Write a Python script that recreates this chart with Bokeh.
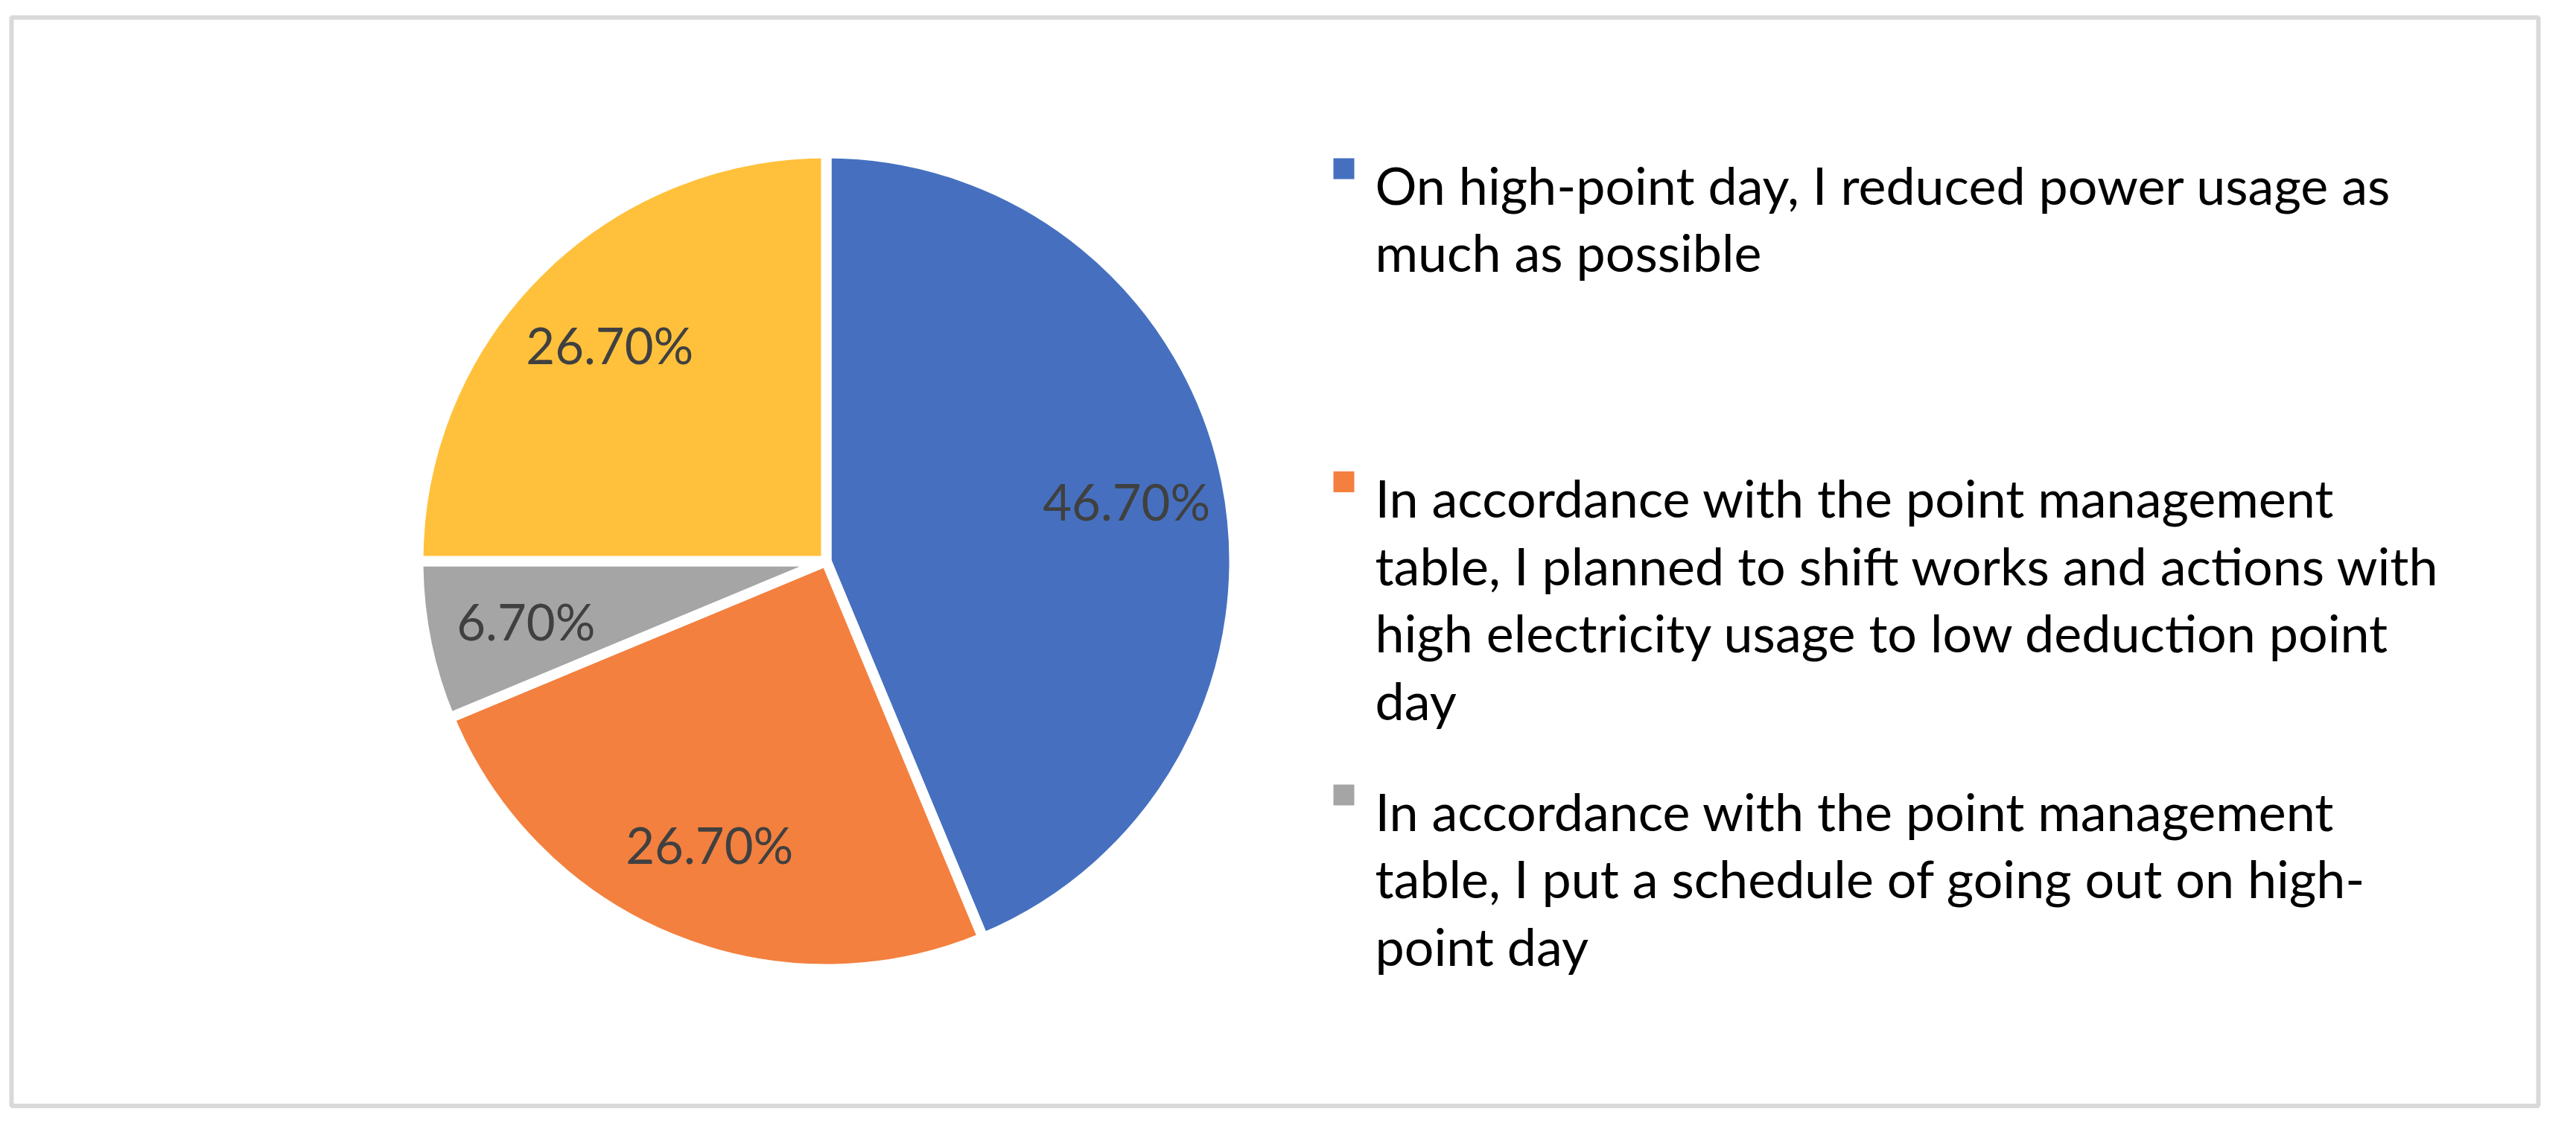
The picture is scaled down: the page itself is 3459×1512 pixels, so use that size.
import math
from bokeh.plotting import figure
from bokeh.models import Range1d, ColumnDataSource
from bokeh.core.properties import value
from bokeh.embed import file_html
from bokeh.resources import INLINE

# ---------------- data ----------------
values = [46.7, 26.7, 6.7, 26.7]
slice_labels = ["46.70%", "26.70%", "6.70%", "26.70%"]
colors = ["#4670BF", "#F3803F", "#A5A5A5", "#FFC13B"]
legend_lines = [
    ["On high-point day, I reduced power usage as",
     "much as possible"],
    ["In accordance with the point management",
     "table, I planned to shift works and actions with",
     "high electricity usage to low deduction point",
     "day"],
    ["In accordance with the point management",
     "table, I put a schedule of going out on high-",
     "point day"],
]

# ---------------- layout ----------------
W, H = 3443, 1496
FONT = "Lato"

def Y(sy):
    # screen y (page px) -> data y (y up)
    return 1504 - sy

def X(sx):
    return sx

p = figure(width=W, height=H, output_backend="svg", toolbar_location=None,
           x_range=Range1d(8, 8 + W), y_range=Range1d(8, 8 + H),
           x_axis_type=None, y_axis_type=None, min_border=0,
           outline_line_color=None, background_fill_color="white",
           border_fill_color="white")
p.grid.visible = False

# chart border
p.quad(left=[X(23)], right=[X(3416)], top=[Y(23)], bottom=[Y(1484.5)],
       fill_color=None, line_color="#D9D9D9", line_width=6)

# pie
cx, cy = X(1117), Y(753)
R = 548
total = sum(values)
starts, ends, mids = [], [], []
acc = 0.0
for v in values:
    a0 = math.pi / 2 - 2 * math.pi * acc / total
    acc += v
    a1 = math.pi / 2 - 2 * math.pi * acc / total
    starts.append(a0)
    ends.append(a1)
    mids.append((a0 + a1) / 2)

src = ColumnDataSource(dict(start=starts, end=ends, color=colors))
p.wedge(x=cx, y=cy, radius=R, start_angle="start", end_angle="end",
        direction="clock", fill_color="color", line_color="white",
        line_width=14, source=src)

# data labels
lr = 0.76 * (R - 7)
lx = [cx + lr * math.cos(m) for m in mids]
ly = [cy + lr * math.sin(m) for m in mids]
p.text(x=lx, y=ly, text=slice_labels, text_font=value(FONT),
       text_font_size="67px", text_color="#404040",
       text_align="center", text_baseline="middle")

# legend
leg_x_sq = X(1812)
leg_x_txt = X(1854)
first_base = 247
entry_step = 420.5
line_step = 90.5
sq_x, sq_y, sq_c = [], [], []
tx, ty, tt = [], [], []
for i, lines in enumerate(legend_lines):
    b0 = first_base + i * entry_step
    sq_x.append(leg_x_sq)
    sq_y.append(Y(b0 - 21))
    sq_c.append(colors[i])
    for j, ln in enumerate(lines):
        tx.append(leg_x_txt)
        ty.append(Y(b0 + j * line_step))
        tt.append(ln)
p.scatter(x=sq_x, y=sq_y, marker="square", size=28, fill_color=sq_c,
          line_color=None)
p.text(x=tx, y=ty, text=tt, text_font=value(FONT), text_font_size="70px",
       text_color="#000000", text_align="left", text_baseline="alphabetic")

open("out.html", "w").write(file_html(p, INLINE))
